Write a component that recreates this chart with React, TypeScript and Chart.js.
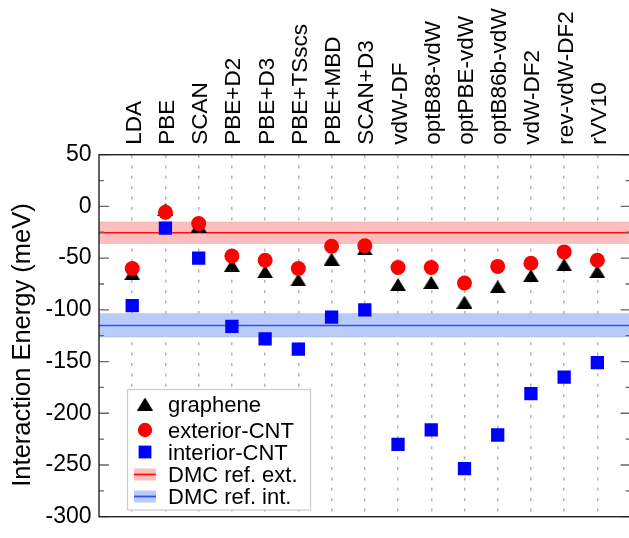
import React, { useEffect, useRef } from "react";
import { Chart, registerables } from "chart.js";

Chart.register(...registerables);

const categories = [
  "LDA", "PBE", "SCAN", "PBE+D2", "PBE+D3", "PBE+TSscs", "PBE+MBD", "SCAN+D3",
  "vdW-DF", "optB88-vdW", "optPBE-vdW", "optB86b-vdW", "vdW-DF2", "rev-vdW-DF2", "rVV10",
];
const graphene = [-65, -3, -19, -57, -63, -71, -51, -41, -75.5, -73.5, -92.5, -77.5, -67, -56.5, -63];
const exteriorCNT = [-60, -5.6, -16.6, -48, -52, -60, -38.5, -38, -59, -59, -74, -58, -55, -44, -52];
const interiorCNT = [-96, -21, -50, -116, -128, -138, -107, -100, -230, -216, -253.5, -221, -181, -165, -151];
// [low, mean, high]
const dmcExt = [-36, -25.5, -15];
const dmcInt = [-126.3, -115.2, -103.6];
const yTicks = [-300, -250, -200, -150, -100, -50, 0, 50];
const yMinorTicks = [-275, -225, -175, -125, -75, -25, 25];
const yTitle = "Interaction Energy (meV)";
const legendLabels = ["graphene", "exterior-CNT", "interior-CNT", "DMC ref. ext.", "DMC ref. int."];

const FONT = "'Liberation Sans', Arial, sans-serif";
const RED_BAND = "#ffbebe";
const BLUE_BAND = "#b9ccf9";
const RED_LINE = "#ff1010";
const BLUE_LINE = "#3050f5";

function makeTriangle(w: number, h: number, color: string) {
  const c = document.createElement("canvas");
  c.width = w;
  c.height = h;
  const ctx = c.getContext("2d")!;
  ctx.fillStyle = color;
  ctx.beginPath();
  ctx.moveTo(w / 2, 0);
  ctx.lineTo(w, h);
  ctx.lineTo(0, h);
  ctx.closePath();
  ctx.fill();
  return c;
}

export default function App() {
  const ref = useRef<HTMLCanvasElement>(null);

  useEffect(() => {
    const tri = makeTriangle(16, 13, "#000000");

    const bandsPlugin = {
      id: "bands",
      beforeDatasetsDraw(chart: any) {
        const { ctx, chartArea } = chart;
        const y = chart.scales.y;
        const draw = (band: number[], fill: string, line: string) => {
          const yTop = y.getPixelForValue(band[2]);
          const yBot = y.getPixelForValue(band[0]);
          const yMid = y.getPixelForValue(band[1]);
          ctx.save();
          ctx.fillStyle = fill;
          ctx.fillRect(chartArea.left, yTop, chartArea.right - chartArea.left, yBot - yTop);
          ctx.strokeStyle = "rgba(150,150,150,0.25)";
          ctx.lineWidth = 1;
          ctx.beginPath();
          ctx.moveTo(chartArea.left, yTop);
          ctx.lineTo(chartArea.right, yTop);
          ctx.moveTo(chartArea.left, yBot);
          ctx.lineTo(chartArea.right, yBot);
          ctx.stroke();
          ctx.strokeStyle = line;
          ctx.lineWidth = 1.6;
          ctx.beginPath();
          ctx.moveTo(chartArea.left, yMid);
          ctx.lineTo(chartArea.right, yMid);
          ctx.stroke();
          ctx.restore();
        };
        draw(dmcExt, RED_BAND, RED_LINE);
        draw(dmcInt, BLUE_BAND, BLUE_LINE);
      },
    };

    const framePlugin = {
      id: "frame",
      afterDatasetsDraw(chart: any) {
        const { ctx, chartArea } = chart;
        const y = chart.scales.y;
        const x = chart.scales.x;
        const { left, right, top, bottom } = chartArea;
        ctx.save();
        // inward ticks
        ctx.strokeStyle = "#666";
        ctx.lineWidth = 1.3;
        ctx.beginPath();
        yTicks.forEach((v) => {
          const py = y.getPixelForValue(v);
          ctx.moveTo(left, py);
          ctx.lineTo(left + 10, py);
          ctx.moveTo(right, py);
          ctx.lineTo(right - 10, py);
        });
        yMinorTicks.forEach((v) => {
          const py = y.getPixelForValue(v);
          ctx.moveTo(left, py);
          ctx.lineTo(left + 5, py);
          ctx.moveTo(right, py);
          ctx.lineTo(right - 5, py);
        });
        ctx.stroke();
        // spines
        ctx.strokeStyle = "#222";
        ctx.lineWidth = 1.4;
        ctx.strokeRect(left, top, right - left, bottom - top);

        // category labels (rotated, on top)
        ctx.fillStyle = "#000";
        ctx.font = `22.5px ${FONT}`;
        ctx.textAlign = "left";
        ctx.textBaseline = "alphabetic";
        categories.forEach((c, i) => {
          const px = x.getPixelForValue(i + 1);
          ctx.save();
          ctx.translate(px + 8.5, top - 10);
          ctx.rotate(-Math.PI / 2);
          ctx.fillText(c, 0, 0);
          ctx.restore();
        });

        // y title
        ctx.font = `25.5px ${FONT}`;
        ctx.textAlign = "center";
        ctx.textBaseline = "middle";
        ctx.save();
        ctx.translate(22.5, 345);
        ctx.rotate(-Math.PI / 2);
        ctx.fillText(yTitle, 0, 0);
        ctx.restore();
        ctx.restore();
      },
      afterDraw(chart: any) {
        const { ctx } = chart;
        ctx.save();
        // legend box
        const bx = 127.5, by = 389.5, bw = 183, bh = 120.5;
        ctx.fillStyle = "#ffffff";
        ctx.fillRect(bx, by, bw, bh);
        ctx.strokeStyle = "#cccccc";
        ctx.lineWidth = 1.2;
        ctx.strokeRect(bx, by, bw, bh);
        const mx = 145;
        const rows = [404, 430, 452, 474.5, 496.5];
        // markers
        ctx.drawImage(tri, mx - 8, rows[0] - 6.5);
        ctx.fillStyle = "#ff0000";
        ctx.beginPath();
        ctx.arc(mx, rows[1], 7.2, 0, Math.PI * 2);
        ctx.fill();
        ctx.fillStyle = "#0000ff";
        ctx.fillRect(mx - 6.4, rows[2] - 6.4, 12.8, 12.8);
        const patch = (yc: number, fill: string, line: string) => {
          ctx.fillStyle = fill;
          ctx.fillRect(mx - 11, yc - 6, 22, 12);
          ctx.strokeStyle = line;
          ctx.lineWidth = 1.8;
          ctx.beginPath();
          ctx.moveTo(mx - 11, yc);
          ctx.lineTo(mx + 11, yc);
          ctx.stroke();
        };
        patch(rows[3], RED_BAND, RED_LINE);
        patch(rows[4], BLUE_BAND, BLUE_LINE);
        ctx.fillStyle = "#000";
        ctx.font = `22px ${FONT}`;
        ctx.textBaseline = "alphabetic";
        ctx.textAlign = "left";
        legendLabels.forEach((t, i) => ctx.fillText(t, 168, rows[i] + 7.8));
        ctx.restore();
      },
    };

    const chart = new Chart(ref.current!, {
      type: "scatter",
      data: {
        datasets: [
          {
            label: legendLabels[0],
            data: graphene.map((v, i) => ({ x: i + 1, y: v })),
            pointStyle: tri as any,
            pointRadius: 8,
            backgroundColor: "#000",
            borderWidth: 0,
            order: 3,
          },
          {
            label: legendLabels[1],
            data: exteriorCNT.map((v, i) => ({ x: i + 1, y: v })),
            pointStyle: "circle",
            pointRadius: 7.5,
            backgroundColor: "#ff0000",
            borderWidth: 0,
            order: 2,
          },
          {
            label: legendLabels[2],
            data: interiorCNT.map((v, i) => ({ x: i + 1, y: v })),
            pointStyle: "rect",
            pointRadius: 9.4,
            backgroundColor: "#0000ff",
            borderWidth: 0,
            order: 1,
          },
        ],
      },
      options: {
        animation: false,
        responsive: true,
        maintainAspectRatio: false,
        layout: { padding: { left: 0, top: 0, right: 8, bottom: 10.3 } },
        plugins: { legend: { display: false }, tooltip: { enabled: false } },
        scales: {
          x: {
            type: "linear",
            position: "top",
            min: 0,
            max: 16,
            afterBuildTicks: (s: any) => {
              s.ticks = categories.map((_, i) => ({ value: i + 1 }));
            },
            afterFit: (s: any) => {
              s.height = 154.7;
            },
            ticks: { display: false },
            grid: { drawTicks: false, color: "#b4b4b4", lineWidth: 1.5 },
            border: { display: false, dash: [3, 7.4] },
          },
          y: {
            min: -300,
            max: 50,
            afterBuildTicks: (s: any) => {
              s.ticks = yTicks.map((v) => ({ value: v }));
            },
            afterFit: (s: any) => {
              s.width = 99;
            },
            ticks: {
              padding: 7.5,
              color: "#000",
              font: { family: FONT, size: 23 },
            },
            grid: { display: false, drawTicks: false },
            border: { display: false },
          },
        },
      },
      plugins: [bandsPlugin, framePlugin],
    } as any);
    return () => chart.destroy();
  }, []);

  return (
    <div
      style={{
        position: "fixed",
        left: 0,
        top: 0,
        width: 629,
        height: 538,
        overflow: "hidden",
        background: "#fff",
      }}
    >
      <div style={{ position: "relative", width: 640, height: 538 }}>
        <canvas ref={ref} />
      </div>
    </div>
  );
}
